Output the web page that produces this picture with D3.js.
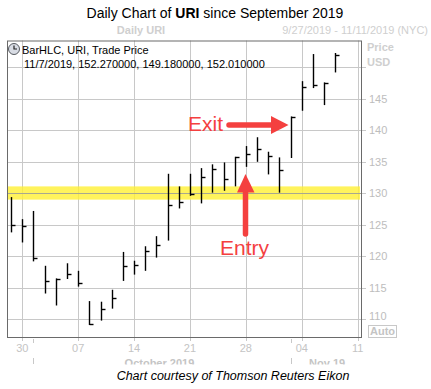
<!DOCTYPE html>
<html>
<head>
<meta charset="utf-8">
<title>Daily Chart of URI since September 2019</title>
<script src="https://d3js.org/d3.v7.min.js"></script>
<style>
  body { margin: 0; background: #fff; }
  svg { display: block; font-family: "Liberation Sans", Arial, sans-serif; }
</style>
</head>
<body>
<svg width="431" height="389"></svg>
<script>

// trading days shown (bars), plus the two empty days after
const dates = ['9/27','9/30','10/1','10/2','10/3','10/4','10/7','10/8','10/9','10/10','10/11',
  '10/14','10/15','10/16','10/17','10/18','10/21','10/22','10/23','10/24','10/25',
  '10/28','10/29','10/30','10/31','11/1','11/4','11/5','11/6','11/7','11/8','11/11'];

const highs  = [129.4,125.9,127.2,118.5,116.5,118.9,117.7,112.9,112.8,114.7,120.7,
  119.3,121.6,123.2,133.1,131.1,133.1,134.0,134.6,134.9,135.8,
  137.5,138.9,136.6,135.7,142.2,147.8,152.1,147.6,152.27];
const lows   = [123.8,122.2,119.2,114.1,112.2,116.4,115.2,109.1,109.8,111.7,116.1,
  117.1,117.7,119.8,122.5,127.6,129.6,128.4,130.1,130.4,131.1,
  134.2,135.0,133.0,130.1,135.6,143.1,146.7,144.0,149.18];
const closes = [125.0,124.8,119.7,116.1,116.4,117.2,115.7,109.2,111.6,113.4,118.4,
  118.7,120.8,121.8,128.1,128.7,129.9,132.6,133.8,132.2,135.7,
  136.2,137.1,136.0,133.7,142.1,146.9,147.2,147.5,152.01];

const priceTicks = [110,115,120,125,130,135,140,145,150];
const weekTicks = ['9/30','10/7','10/14','10/21','10/28','11/4','11/11'];
const weekLabels = ['30','07','14','21','28','04','11'];
const monthStarts = ['10/1','11/1'];
const monthLabels = [{at: '10/16', text: 'October 2019'}, {at: '11/6', text: 'Nov 19'}];
const band = [129.0, 131.1];

const svg = d3.select('svg');
const m = {left: 7, right: 361, top: 40.5, bottom: 337};
const red = '#f4403f';
const grey = '#c4c4c4';

const idx = d => dates.indexOf(d);
const x = d3.scaleLinear().domain([-0.37, 31.3]).range([m.left, m.right]);
const y = d3.scaleLinear().domain([107.2, 154.25]).range([m.bottom, m.top]);

// title
const title = svg.append('text')
    .attr('x', 215).attr('y', 18)
    .attr('text-anchor', 'middle')
    .style('font-size', '14px')
    .attr('fill', '#000');
title.append('tspan').text('Daily Chart of ');
title.append('tspan').style('font-weight', 'bold').text('URI');
title.append('tspan').text(' since September 2019');

svg.append('text')
    .attr('x', 141).attr('y', 34)
    .attr('text-anchor', 'middle')
    .style('font-size', '11px').style('font-weight', 'bold')
    .attr('fill', '#cfcfcf')
    .text('Daily URI');
svg.append('text')
    .attr('x', 428).attr('y', 34)
    .attr('text-anchor', 'end')
    .style('font-size', '11px')
    .attr('fill', '#cfcfcf')
    .text('9/27/2019 - 11/11/2019 (NYC)');

// grid
svg.append('g')
  .selectAll('line').data(priceTicks).join('line')
    .attr('x1', m.left).attr('x2', m.right + 5)
    .attr('y1', d => Math.round(y(d)) + 0.5).attr('y2', d => Math.round(y(d)) + 0.5)
    .attr('stroke', '#c8c8c8');
svg.append('g')
  .selectAll('line').data(weekTicks).join('line')
    .attr('x1', d => Math.round(x(idx(d))) + 0.5).attr('x2', d => Math.round(x(idx(d))) + 0.5)
    .attr('y1', m.top).attr('y2', m.bottom + 4)
    .attr('stroke', '#c8c8c8');
svg.append('g')
  .selectAll('line').data(monthStarts).join('line')
    .attr('x1', d => Math.round(x(idx(d))) + 0.5).attr('x2', d => Math.round(x(idx(d))) + 0.5)
    .attr('y1', m.bottom + 2).attr('y2', m.bottom + 6)
    .attr('stroke', '#c8c8c8');
svg.append('g')
  .selectAll('line').data(monthStarts).join('line')
    .attr('x1', d => Math.round(x(idx(d))) + 0.5).attr('x2', d => Math.round(x(idx(d))) + 0.5)
    .attr('y1', 358).attr('y2', 364)
    .attr('stroke', '#c8c8c8');

// support band
svg.append('rect')
    .attr('x', m.left).attr('width', m.right - 1 - m.left)
    .attr('y', y(band[1])).attr('height', y(band[0]) - y(band[1]))
    .attr('fill', '#fff033').attr('opacity', 0.8);
svg.append('line')
    .attr('x1', m.left).attr('x2', m.right)
    .attr('y1', Math.round(y(130)) + 0.5).attr('y2', Math.round(y(130)) + 0.5)
    .attr('stroke', '#a8a890');

// frame
svg.append('rect')
    .attr('x', m.left + 0.5).attr('y', m.top + 0.5)
    .attr('width', m.right - m.left).attr('height', m.bottom - m.top)
    .attr('fill', 'none').attr('stroke', '#6a6a6a');

// price labels
svg.append('g')
  .selectAll('text').data(priceTicks.slice(0, -1)).join('text')
    .attr('x', 369).attr('y', d => y(d) + (d === 110 ? 1 : 4))
    .style('font-size', '11px')
    .attr('fill', '#bdbdbd')
    .text(d => d);
svg.append('text').attr('x', 367).attr('y', 51)
    .style('font-size', '11px').style('font-weight', 'bold')
    .attr('fill', '#cfcfcf').text('Price');
svg.append('text').attr('x', 367).attr('y', 66)
    .style('font-size', '11px').style('font-weight', 'bold')
    .attr('fill', '#cfcfcf').text('USD');
svg.append('rect').attr('x', 368.5).attr('y', 325.5).attr('width', 28).attr('height', 12)
    .attr('fill', 'none').attr('stroke', '#c8c8c8');
svg.append('text').attr('x', 382.5).attr('y', 335)
    .attr('text-anchor', 'middle')
    .style('font-size', '11px').style('font-weight', 'bold')
    .attr('fill', '#c4c4c4').text('Auto');

// date labels
svg.append('g')
  .selectAll('text').data(weekTicks).join('text')
    .attr('x', d => x(idx(d))).attr('y', 352)
    .attr('text-anchor', 'middle')
    .style('font-size', '11px')
    .attr('fill', grey)
    .text((d, i) => weekLabels[i]);
svg.append('g')
  .selectAll('text').data(monthLabels).join('text')
    .attr('x', d => x(idx(d.at)) + 3).attr('y', 367)
    .attr('text-anchor', 'middle')
    .style('font-size', '11px').style('font-weight', 'bold')
    .attr('fill', grey)
    .text(d => d.text);
svg.append('rect').attr('x', 0).attr('y', 364.5).attr('width', 431).attr('height', 30).attr('fill', '#fff');

// HLC bars
const bars = svg.append('g').attr('stroke', '#000').attr('stroke-width', 1.4);
bars.selectAll('line.hl').data(highs).join('line')
    .attr('class', 'hl')
    .attr('x1', (d, i) => Math.round(x(i)) + 0.5).attr('x2', (d, i) => Math.round(x(i)) + 0.5)
    .attr('y1', d => y(d)).attr('y2', (d, i) => y(lows[i]));
bars.selectAll('line.c').data(closes).join('line')
    .attr('class', 'c')
    .attr('x1', (d, i) => Math.round(x(i)) + 0.5).attr('x2', (d, i) => Math.round(x(i)) + 4.5)
    .attr('y1', d => Math.round(y(d)) + 0.5).attr('y2', d => Math.round(y(d)) + 0.5);

// legend
const clock = svg.append('g').attr('transform', 'translate(14,49)');
clock.append('circle').attr('r', 5.5).attr('fill', '#d8dce4').attr('stroke', '#55595f');
clock.append('path').attr('d', 'M0,-3.5V0H3').attr('fill', 'none').attr('stroke', '#222').attr('stroke-width', 1.2);
svg.append('text').attr('x', 22).attr('y', 54)
    .style('font-size', '11px').attr('fill', '#000')
    .text('BarHLC, URI, Trade Price');
svg.append('text').attr('x', 24).attr('y', 68)
    .style('font-size', '11px').attr('fill', '#000')
    .text('11/7/2019, 152.270000, 149.180000, 152.010000');

// annotations
svg.append('text').attr('x', 188).attr('y', 131)
    .style('font-size', '21px').attr('fill', red).text('Exit');
svg.append('line').attr('x1', 229).attr('x2', 274).attr('y1', 125).attr('y2', 125)
    .attr('stroke', red).attr('stroke-width', 5.5).attr('stroke-linecap', 'round');
svg.append('path').attr('d', 'M271,116L288.5,125L271,134Z').attr('fill', red);

svg.append('line').attr('x1', 245.5).attr('x2', 245.5).attr('y1', 190).attr('y2', 234)
    .attr('stroke', red).attr('stroke-width', 5.5).attr('stroke-linecap', 'round');
svg.append('path').attr('d', 'M237,192.5L245.5,174L254.5,192.5Z').attr('fill', red);
svg.append('text').attr('x', 244.5).attr('y', 255)
    .attr('text-anchor', 'middle')
    .style('font-size', '21px').attr('fill', red).text('Entry');

// caption
svg.append('text').attr('x', 233).attr('y', 380)
    .attr('text-anchor', 'middle')
    .style('font-size', '12.5px').style('font-style', 'italic')
    .attr('fill', '#000')
    .text('Chart courtesy of Thomson Reuters Eikon');

</script>
</body>
</html>
